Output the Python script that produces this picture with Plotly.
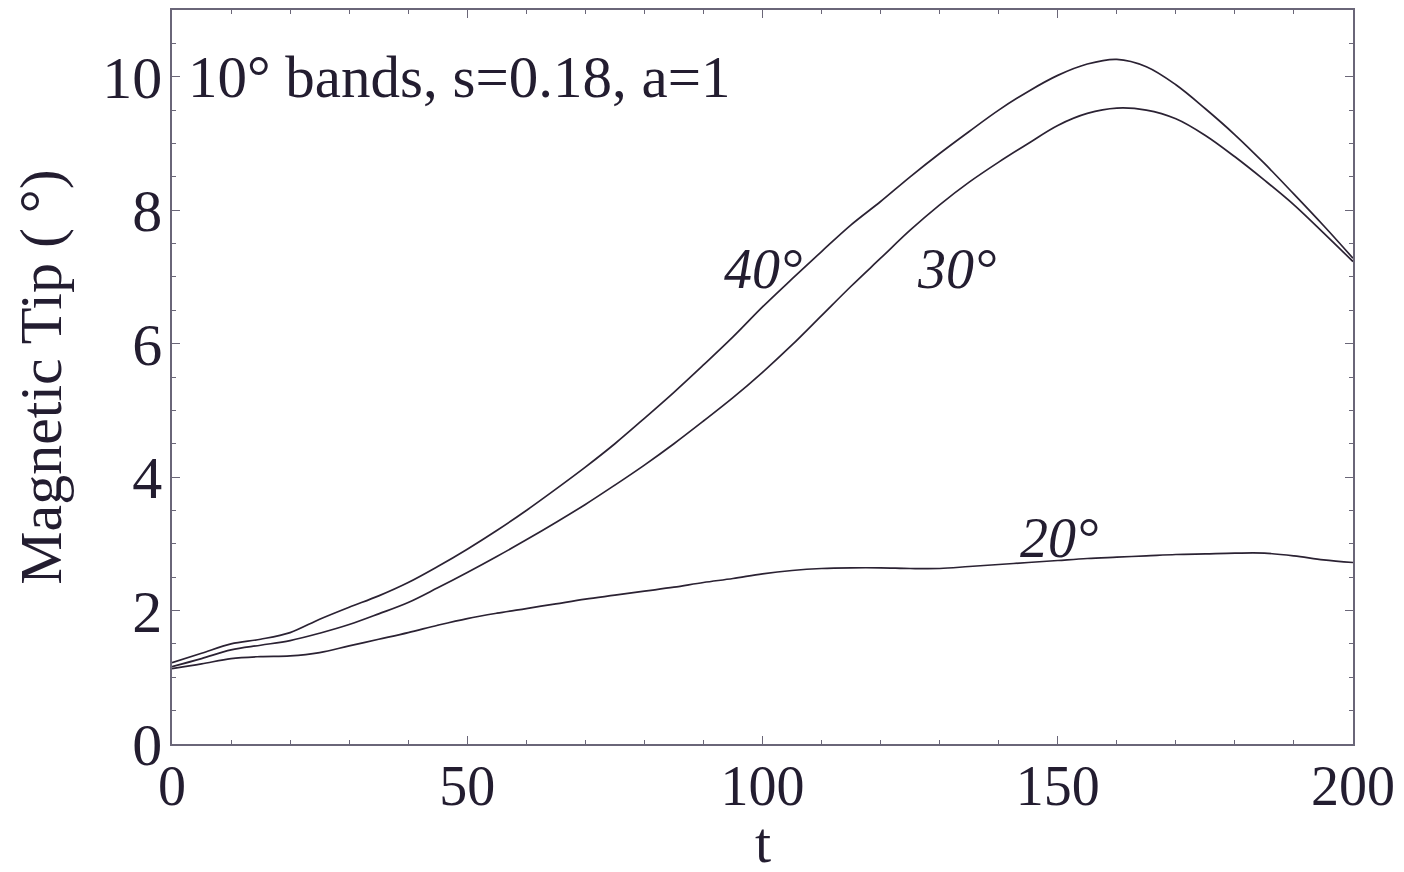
import plotly.graph_objects as go

t = [0, 5, 10, 15, 20, 25, 30, 35, 40, 45, 50, 55, 60, 65, 70, 75, 80, 85, 90, 95,
     100, 105, 110, 115, 120, 125, 130, 135, 140, 145, 150, 155, 160, 165, 170, 175,
     180, 185, 190, 195, 200]

tip40 = [1.22, 1.36, 1.50, 1.57, 1.67, 1.87, 2.05, 2.22, 2.42, 2.66, 2.92, 3.20, 3.50,
         3.82, 4.15, 4.50, 4.88, 5.27, 5.68, 6.10, 6.55, 6.97, 7.38, 7.78, 8.13, 8.50,
         8.85, 9.18, 9.50, 9.78, 10.02, 10.19, 10.26, 10.15, 9.88, 9.52, 9.13, 8.70,
         8.24, 7.77, 7.28]

tip30 = [1.16, 1.28, 1.41, 1.48, 1.55, 1.66, 1.79, 1.95, 2.12, 2.34, 2.57, 2.81, 3.06,
         3.32, 3.59, 3.88, 4.18, 4.50, 4.84, 5.19, 5.57, 5.98, 6.42, 6.86, 7.28, 7.70,
         8.08, 8.42, 8.72, 9.00, 9.27, 9.45, 9.53, 9.50, 9.37, 9.12, 8.80, 8.45, 8.08,
         7.66, 7.23]

tip20 = [1.13, 1.20, 1.28, 1.31, 1.32, 1.37, 1.47, 1.57, 1.67, 1.78, 1.88, 1.96, 2.03,
         2.10, 2.17, 2.23, 2.29, 2.35, 2.42, 2.48, 2.55, 2.60, 2.63, 2.64, 2.64, 2.63,
         2.63, 2.66, 2.69, 2.72, 2.75, 2.78, 2.80, 2.82, 2.84, 2.85, 2.86, 2.86, 2.82,
         2.76, 2.72]

curve_labels = ["40°", "30°", "20°"]
label_t = [100.1, 132.9, 150.2]
label_v = [7.12, 7.12, 3.08]

title_text = "10° bands, s=0.18, a=1"
x_title = "t"
y_title = "Magnetic Tip ( °)"

FONT = "Liberation Serif, Times New Roman, serif"
INK = "#231d30"
LINE = "#2b2233"
AXIS = "#6a6678"

fig = go.Figure()
for ys in (tip40, tip30, tip20):
    fig.add_trace(go.Scatter(x=t, y=ys, mode="lines",
                             line=dict(color=LINE, width=1.7, shape="spline", smoothing=1.0),
                             showlegend=False, hoverinfo="skip"))

for lab, lx, ly in zip(curve_labels, label_t, label_v):
    fig.add_annotation(x=lx, y=ly, xref="x", yref="y", text=f"<i>{lab}</i>",
                       showarrow=False, font=dict(family=FONT, size=56, color=INK),
                       xanchor="center", yanchor="middle")

fig.add_annotation(x=2.4, y=9.99, xref="x", yref="y", text=title_text, showarrow=False,
                   font=dict(family=FONT, size=59, color=INK), xanchor="left", yanchor="middle")

# x-axis title placed as paper annotation below the tick labels
fig.add_annotation(x=0.5, y=-0.134, xref="paper", yref="paper", text=x_title, showarrow=False,
                   font=dict(family=FONT, size=58, color=INK), xanchor="center", yanchor="middle")

axis_common = dict(showline=True, linecolor=AXIS, linewidth=1.5, mirror="allticks",
                   ticks="inside", ticklen=8, tickwidth=1, tickcolor=AXIS,
                   showgrid=False, zeroline=False, ticklabeloverflow="allow")

fig.update_xaxes(range=[0, 200], tickvals=[0, 50, 100, 150, 200], ticklabelstandoff=-8,
                 tickfont=dict(family=FONT, size=56, color=INK),
                 minor=dict(dtick=10, ticks="inside", ticklen=4, tickcolor=AXIS, showgrid=False),
                 **axis_common)
fig.update_yaxes(range=[0, 11.0], tickvals=[0, 2, 4, 6, 8, 10], ticklabelstandoff=-4,
                 tickfont=dict(family=FONT, size=60, color=INK),
                 minor=dict(dtick=0.5, ticks="inside", ticklen=4, tickcolor=AXIS, showgrid=False),
                 title=dict(text=y_title, font=dict(family=FONT, size=60, color=INK), standoff=26),
                 **axis_common)

# page body has an 8px margin, so the figure is drawn 8px in from the window edge
fig.update_layout(width=1388, height=856, margin=dict(l=164, r=43, t=2, b=120, autoexpand=False),
                  plot_bgcolor="white", paper_bgcolor="white")

fig.write_html("out.html")
